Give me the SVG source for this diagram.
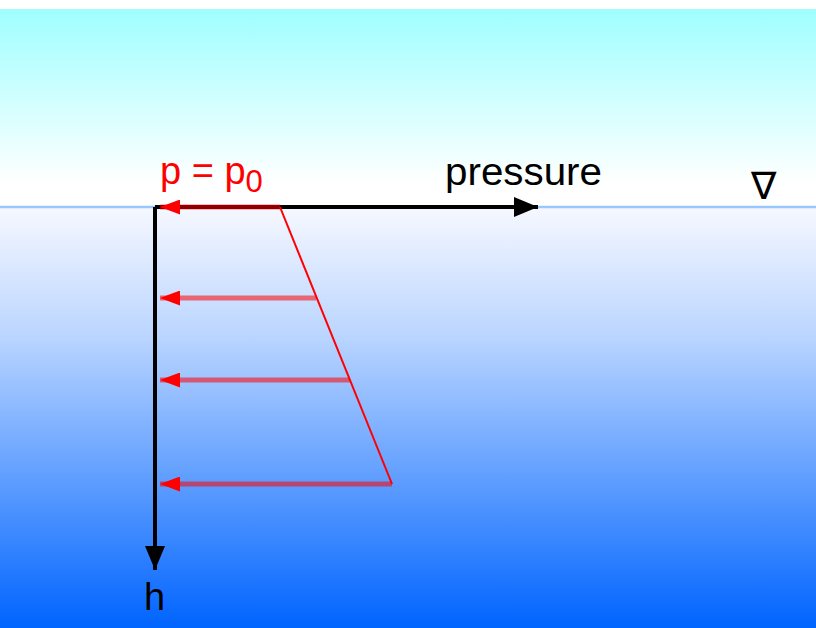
<svg xmlns="http://www.w3.org/2000/svg" width="816" height="628" viewBox="0 0 816 628">
<defs>
<linearGradient id="sky" x1="0" y1="0" x2="0" y2="1">
<stop offset="0" stop-color="#9ffeff"/>
<stop offset="0.88" stop-color="#ffffff"/>
<stop offset="1" stop-color="#ffffff"/>
</linearGradient>
<linearGradient id="water" x1="0" y1="0" x2="0" y2="1">
<stop offset="0" stop-color="#f6f8ff"/>
<stop offset="0.3" stop-color="#bcd6ff"/>
<stop offset="1" stop-color="#0064ff"/>
</linearGradient>
<marker id="blk" markerWidth="6" markerHeight="5" refX="6" refY="2.5" orient="auto" markerUnits="strokeWidth">
<path d="M0,0 L6,2.5 L0,5 Z" fill="#000"/>
</marker>
<marker id="red" markerWidth="4" markerHeight="3" refX="4" refY="1.5" orient="auto" markerUnits="strokeWidth">
<path d="M0,0 L4,1.5 L0,3 Z" fill="#ff0000"/>
</marker>
</defs>
<style>
.axis{stroke:#000;stroke-width:4;fill:none}
.parr{stroke:#ff0000;stroke-opacity:0.55;stroke-width:5;fill:none}
.lbl{font-family:"Liberation Sans",Arial,sans-serif;font-size:38px}
</style>
<rect x="0" y="0" width="816" height="628" fill="#ffffff"/>
<rect x="0" y="9" width="816" height="198" fill="url(#sky)"/>
<rect x="0" y="207" width="816" height="421" fill="url(#water)"/>
<line x1="0" y1="207" x2="816" y2="207" stroke="#99c8ff" stroke-width="2.5"/>
<g id="connectors">
<line class="axis" x1="155" y1="207" x2="538" y2="207" marker-end="url(#blk)"/>
<line class="axis" x1="155" y1="207" x2="155" y2="570" marker-end="url(#blk)"/>
<line class="parr" x1="280" y1="207" x2="160" y2="207" marker-end="url(#red)"/>
<line class="parr" x1="316" y1="298" x2="160" y2="298" marker-end="url(#red)"/>
<line class="parr" x1="350" y1="380" x2="160" y2="380" marker-end="url(#red)"/>
<line class="parr" x1="392" y1="484" x2="160" y2="484" marker-end="url(#red)"/>
<line x1="280" y1="207" x2="392" y2="484" stroke="#ff0000" stroke-width="2"/>
</g>
<g id="labels">
<text class="lbl" x="160" y="184" fill="#ff0000" font-size="40">p = p<tspan font-size="31" dy="8">0</tspan></text>
<text class="lbl" x="445" y="185" fill="#000" textLength="157" lengthAdjust="spacingAndGlyphs">pressure</text>
<text class="lbl" x="751" y="199" fill="#000" font-size="36">∇</text>
<text class="lbl" x="144" y="610" fill="#000" font-size="34">h</text>
</g>
</svg>
